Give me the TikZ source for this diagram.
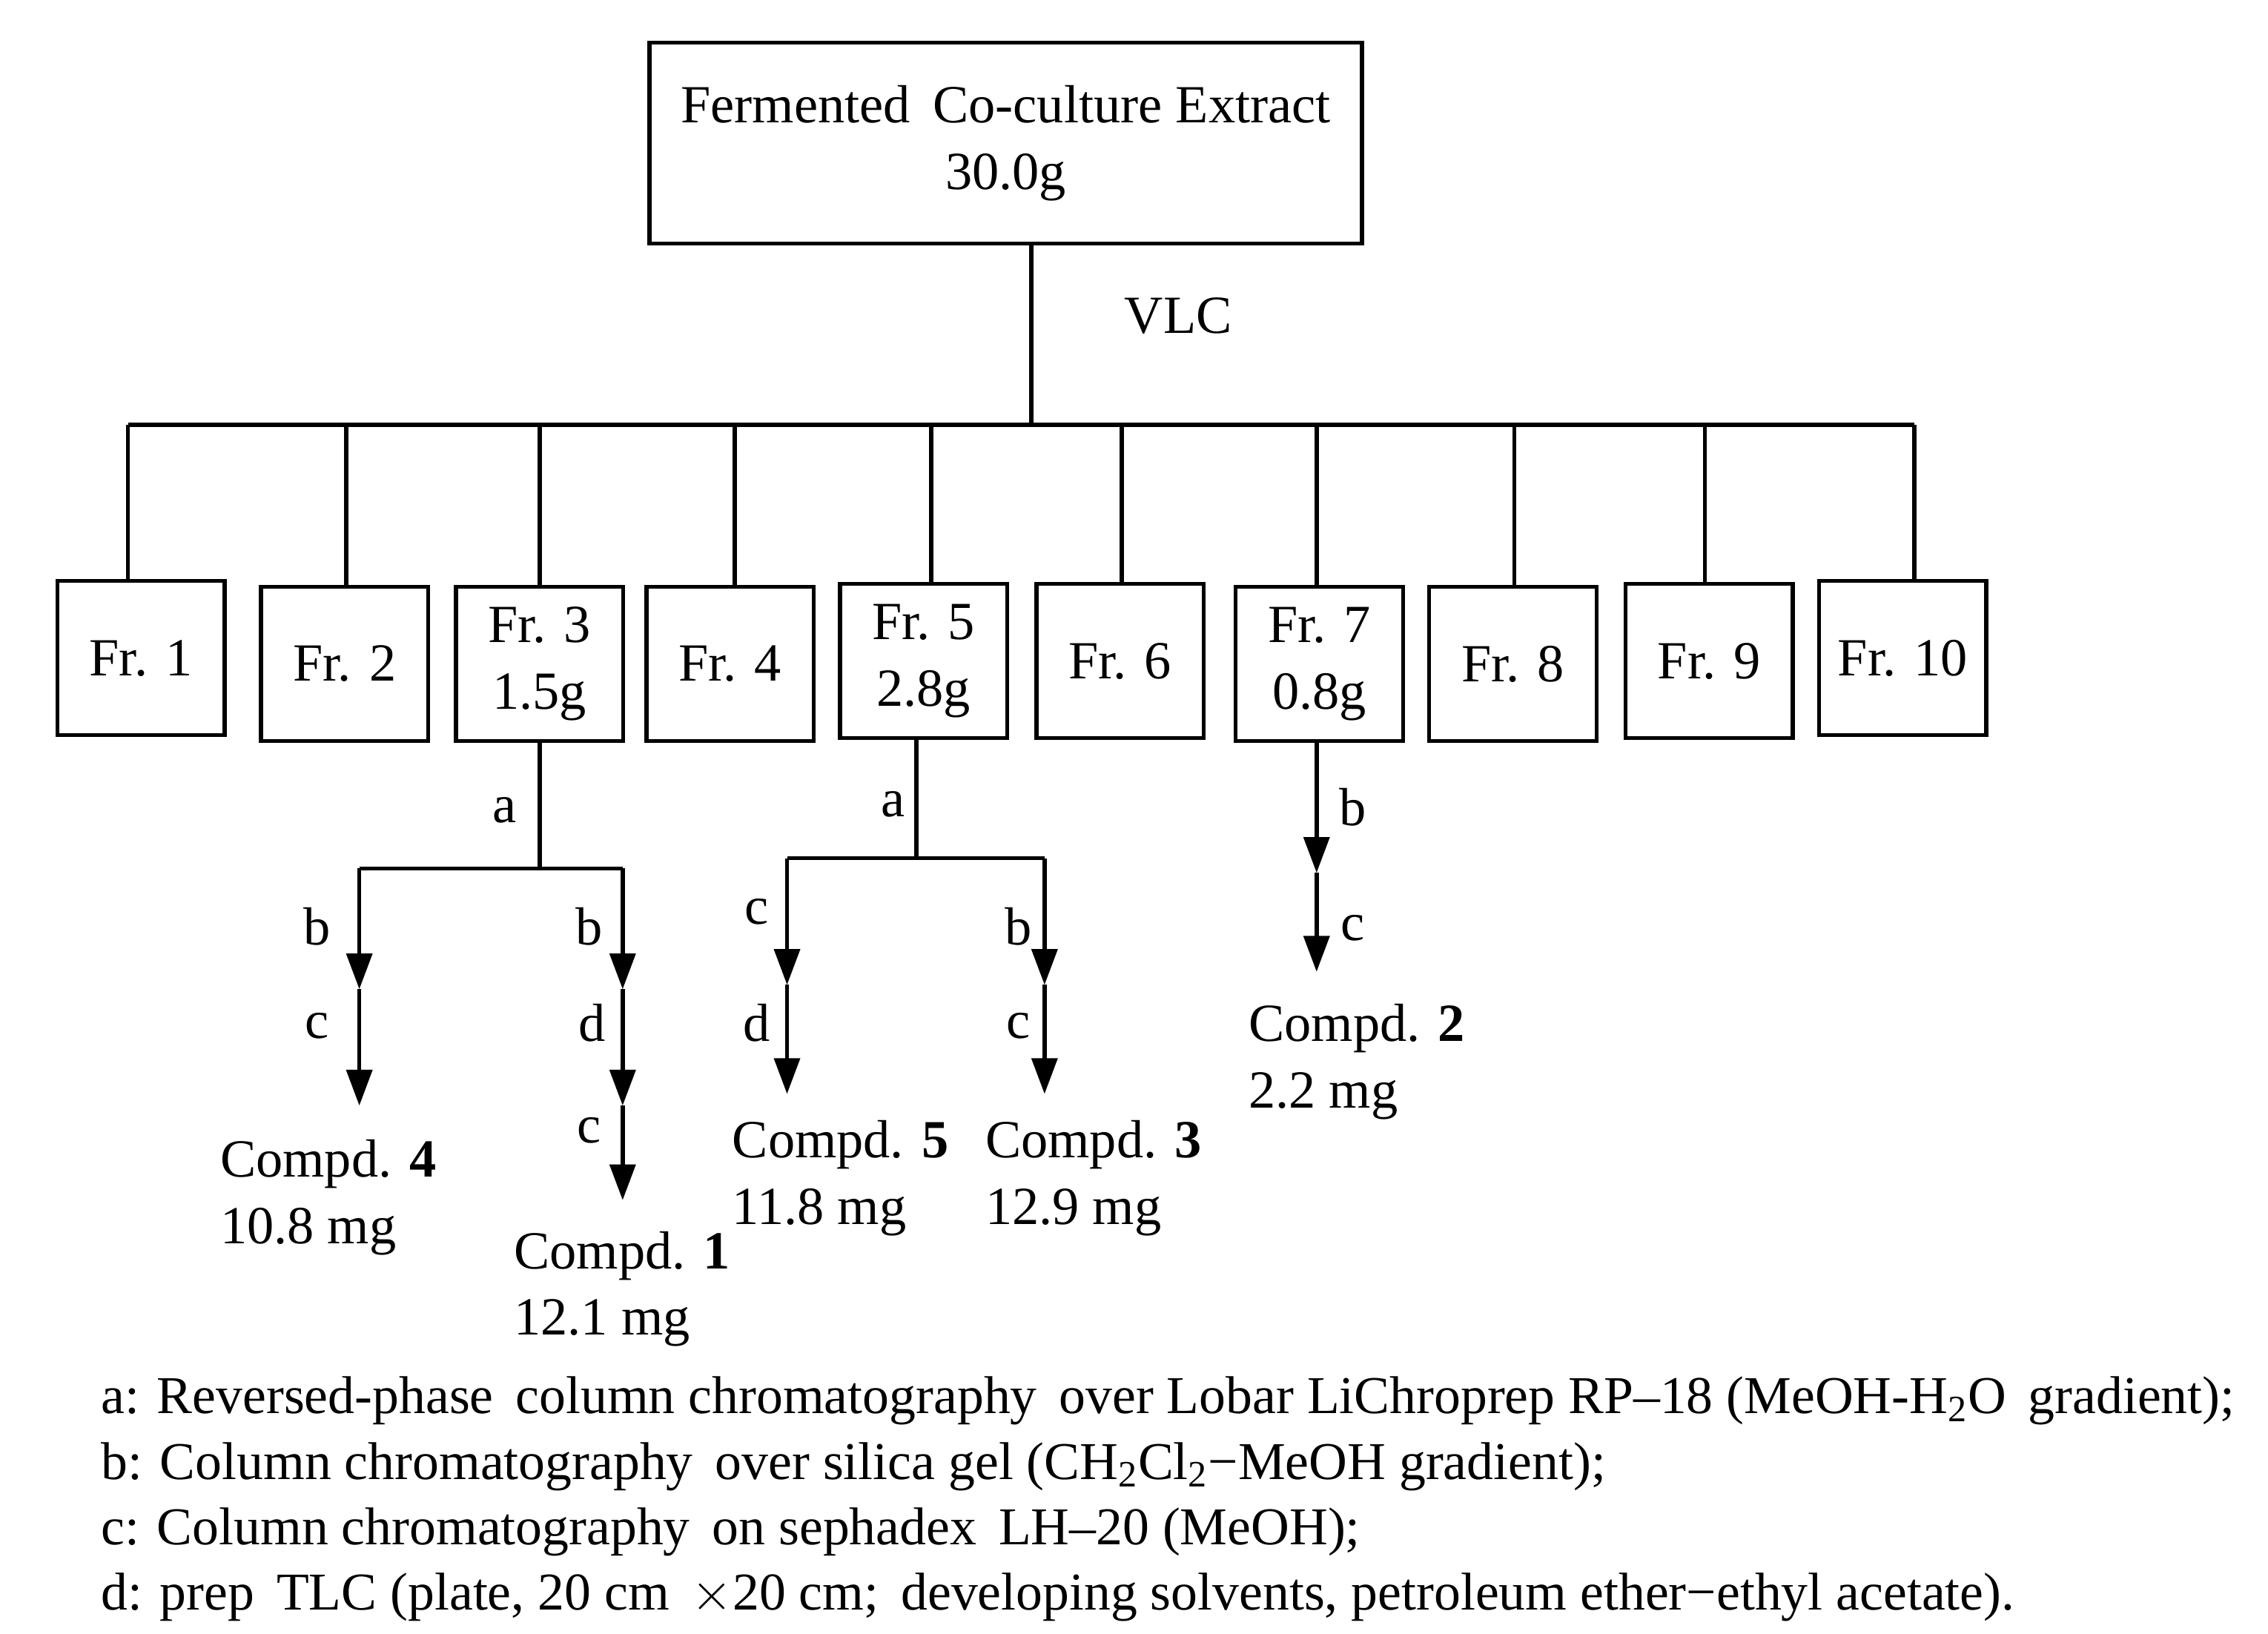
\documentclass[tikz,border=0pt]{standalone}
\usepackage{fontspec}
\setmainfont{Liberation Serif}
\usetikzlibrary{arrows.meta}
\begin{document}
\begin{tikzpicture}[x=0.02cm,y=-0.02cm,line width=1.6pt,
  every node/.style={font=\fontsize{21}{26}\selectfont},
  fr/.style={draw,minimum width=2.3cm,minimum height=2.12cm,inner sep=0pt,align=center,anchor=north west},
  lab/.style={inner sep=1pt},
  cp/.style={anchor=north west,align=left,inner sep=0pt},
  arr/.style={-{Triangle[width=10pt,length=14pt]}}]
\useasboundingbox (0,0) rectangle (1559,1123);
\node[draw,minimum width=9.8cm,minimum height=2.76cm,align=center,anchor=north west] (top) at (445,28) {Fermented\, Co-culture Extract\\30.0g};
\coordinate (hub) at (709,292);
\draw (top.south -| hub) -- (hub);
\node[lab] (vlc) at (810,217) {VLC};
\coordinate (hl) at (88,292); \coordinate (hr) at (1316,292);
\draw (hl) -- (hr);
\foreach \n/\x/\y/\s/\t in {1/38/398/88/Fr. 1, 2/178/402/238/Fr. 2, 3/312/402/371/{Fr. 3\\1.5g}, 4/443/402/505/Fr. 4, 5/576/400/640/{Fr. 5\\2.8g}, 6/711/400/771/Fr. 6, 7/848/402/905/{Fr. 7\\0.8g}, 8/981/402/1041/Fr. 8, 9/1116/400/1172/Fr. 9, 10/1249/398/1316/Fr. 10}{
  \node[fr] (f\n) at (\x,\y) {\t};
  \coordinate (s\n) at (\s,292);
  \draw (s\n) -- (s\n |- f\n.north);
}
% Fr 3
\coordinate (j3) at (371,597); \coordinate (j3l) at (247,597); \coordinate (j3r) at (428,597);
\draw (f3.south -| j3) -- (j3);
\node[lab] (a3) at (347,557) {a};
\draw (j3l) -- (j3r);
\coordinate (l1) at (247,680); \coordinate (l2) at (247,760);
\draw[arr] (j3l) -- (l1); \draw[arr] (l1) -- (l2);
\node[lab] at (218,637) {b}; \node[lab] at (218,705) {c};
\node[cp] (c4) at (150,782) {Compd. \textbf{4}\\10.8 mg};
\coordinate (r1) at (428,680); \coordinate (r2) at (428,760); \coordinate (r3) at (428,825);
\draw[arr] (j3r) -- (r1); \draw[arr] (r1) -- (r2); \draw[arr] (r2) -- (r3);
\node[lab] at (405,637) {b}; \node[lab] at (407,703) {d}; \node[lab] at (405,777) {c};
\node[cp] (c1) at (352,845) {Compd. \textbf{1}\\12.1 mg};
% Fr 5
\coordinate (j5) at (630,590); \coordinate (j5l) at (541,590); \coordinate (j5r) at (718,590);
\draw (f5.south -| j5) -- (j5);
\node[lab] (a5) at (614,553) {a};
\draw (j5l) -- (j5r);
\coordinate (m1) at (541,677); \coordinate (m2) at (541,752);
\draw[arr] (j5l) -- (m1); \draw[arr] (m1) -- (m2);
\node[lab] at (520,627) {c}; \node[lab] at (520,703) {d};
\node[cp] (c5) at (502,769) {Compd. \textbf{5}\\11.8 mg};
\coordinate (n1) at (718,677); \coordinate (n2) at (718,752);
\draw[arr] (j5r) -- (n1); \draw[arr] (n1) -- (n2);
\node[lab] at (700,637) {b}; \node[lab] at (700,705) {c};
\node[cp] (c3) at (676,769) {Compd. \textbf{3}\\12.9 mg};
% Fr 7
\coordinate (p1) at (905,600); \coordinate (p2) at (905,668);
\draw[arr] (f7.south -| p1) -- (p1); \draw[arr] (p1) -- (p2);
\node[lab] at (930,555) {b}; \node[lab] at (930,638) {c};
\node[cp] (c2) at (857,689) {Compd. \textbf{2}\\2.2 mg};
% legend
\node[cp,font=\fontsize{20.8}{25.6}\selectfont] (leg) at (68,945) {a: Reversed-phase\, column chromatography\, over Lobar LiChroprep RP\textendash18 (MeOH-H\textsubscript{2}O\, gradient);\\
b: Column chromatography\, over silica gel (CH\textsubscript{2}Cl\textsubscript{2}\textminus MeOH gradient);\\
c: Column chromatography\, on sephadex\, LH\textendash20 (MeOH);\\
d: prep\, TLC (plate, 20 cm\, $\times$20 cm;\, developing solvents, petroleum ether\textminus ethyl acetate).};
\end{tikzpicture}
\end{document}
